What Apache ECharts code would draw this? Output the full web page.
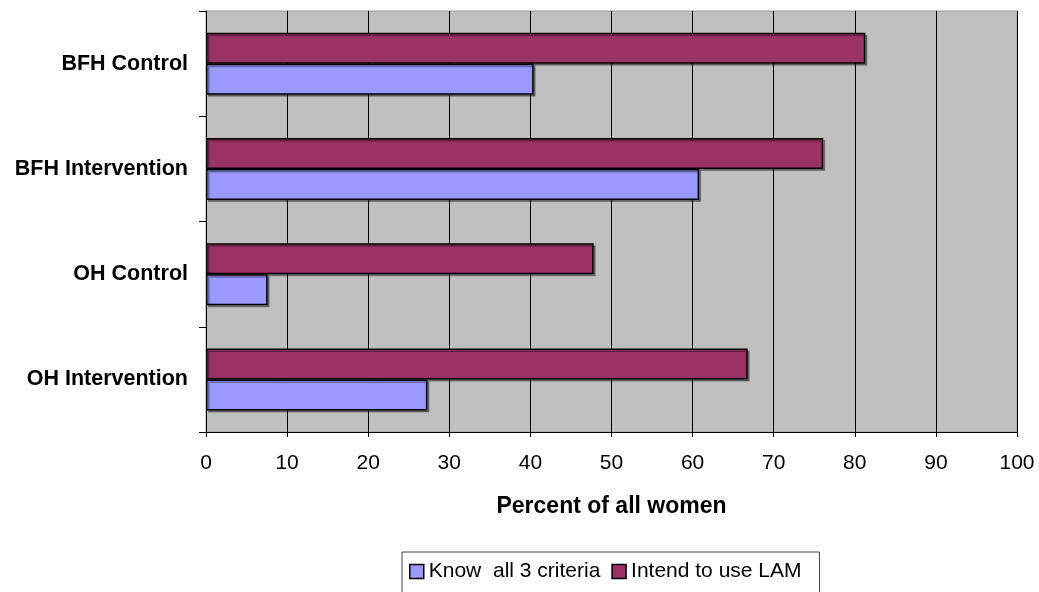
<!DOCTYPE html>
<html>
<head>
<meta charset="utf-8">
<script src="https://cdn.jsdelivr.net/npm/echarts@6/dist/echarts.min.js"></script>
<style>
  html, body { margin: 0; padding: 0; background: #ffffff; }
  #chart { width: 1039px; height: 592px; }
</style>
</head>
<body>
<div id="chart"></div>
<script>
// Groups, listed bottom to top along the category axis
const categories = ['OH Intervention', 'OH Control', 'BFH Intervention', 'BFH Control'];

// Percent of all women in each group
const knowAllCriteria = [27.3, 7.6, 60.8, 40.4];
const intendToUseLAM = [66.8, 47.8, 76.1, 81.3];

const seriesNames = ['Know  all 3 criteria', 'Intend to use LAM'];
const seriesColors = ['#9999FF', '#993366'];

const xTicks = { min: 0, max: 100, interval: 10 };
const xTitle = 'Percent of all women';

const FONT = 'Arial, "Liberation Sans", sans-serif';

const barStyle = (color) => ({
  color: color,
  borderColor: '#000000',
  borderWidth: 1.5,
  shadowColor: 'rgba(0,0,0,0.35)',
  shadowOffsetX: 2,
  shadowOffsetY: 2,
  shadowBlur: 0
});

const chart = echarts.init(document.getElementById('chart'), null, { renderer: 'canvas' });

chart.setOption({
  animation: false,
  backgroundColor: '#ffffff',
  textStyle: { fontFamily: FONT },
  grid: {
    left: 206,
    right: 22,
    top: 11,
    bottom: 160,
    show: true,
    backgroundColor: '#C0C0C0',
    borderColor: '#9a9a9a',
    borderWidth: 1,
    containLabel: false,
    outerBoundsMode: 'none'
  },
  xAxis: {
    type: 'value',
    min: xTicks.min,
    max: xTicks.max,
    interval: xTicks.interval,
    name: xTitle,
    nameLocation: 'middle',
    nameGap: 63,
    nameTextStyle: { fontFamily: FONT, fontSize: 23, fontWeight: 'bold', color: '#000000' },
    axisLine: { show: true, lineStyle: { color: '#000000', width: 1 } },
    axisTick: { show: true, length: 5, inside: false, lineStyle: { color: '#000000' } },
    axisLabel: { fontFamily: FONT, fontSize: 21, color: '#000000', margin: 21 },
    splitLine: { show: true, lineStyle: { color: '#000000', width: 1 } }
  },
  yAxis: {
    type: 'category',
    data: categories,
    axisLine: { show: true, lineStyle: { color: '#000000', width: 1 } },
    axisTick: { show: true, length: 7, inside: false, alignWithLabel: false, lineStyle: { color: '#000000' } },
    axisLabel: { fontFamily: FONT, fontSize: 21.5, fontWeight: 'bold', color: '#000000', margin: 18 },
    splitLine: { show: false }
  },
  legend: {
    left: 402,
    top: 552,
    orient: 'horizontal',
    padding: [9, 18, 30, 7],
    borderColor: '#444444',
    borderWidth: 1,
    itemWidth: 14,
    itemHeight: 14,
    itemGap: 11,
    textStyle: { fontFamily: FONT, fontSize: 21, color: '#000000' },
    data: [
      { name: seriesNames[0], icon: 'rect', itemStyle: { color: seriesColors[0], borderColor: '#000', borderWidth: 1.5 } },
      { name: seriesNames[1], icon: 'rect', itemStyle: { color: seriesColors[1], borderColor: '#000', borderWidth: 1.5 } }
    ]
  },
  // The first series sits on top within each group
  series: [
    {
      name: seriesNames[1],
      type: 'bar',
      data: intendToUseLAM,
      barWidth: 31,
      barGap: '0%',
      itemStyle: barStyle(seriesColors[1])
    },
    {
      name: seriesNames[0],
      type: 'bar',
      data: knowAllCriteria,
      barWidth: 31,
      barGap: '0%',
      itemStyle: barStyle(seriesColors[0])
    }
  ]
});
</script>
</body>
</html>
